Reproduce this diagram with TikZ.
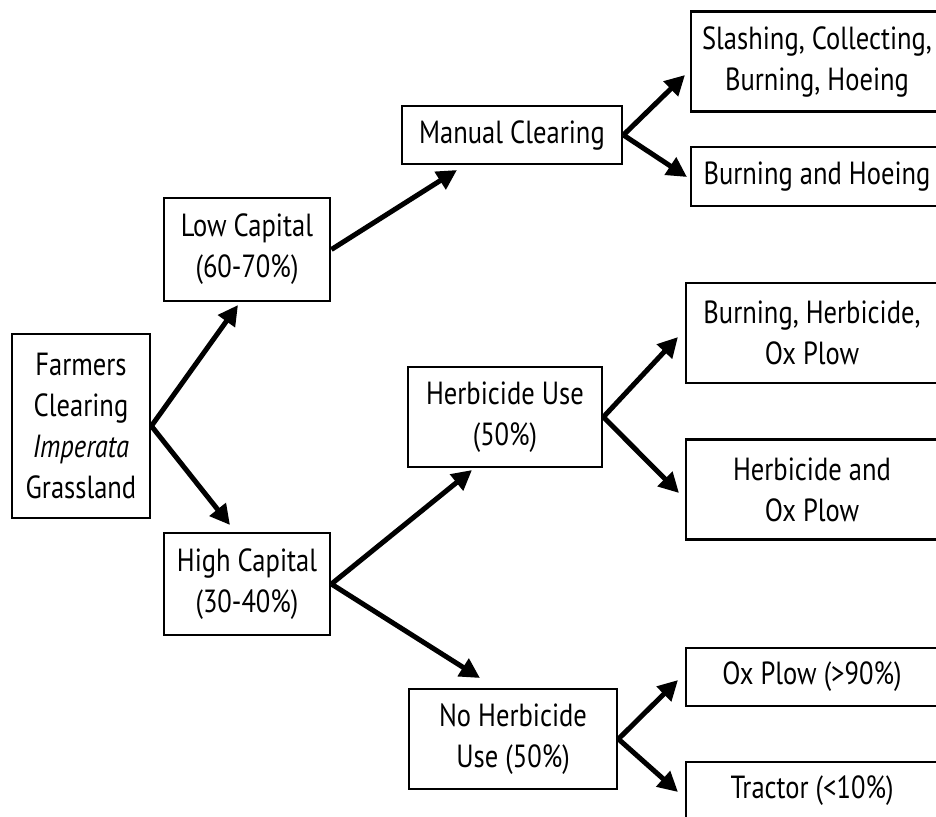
\documentclass[tikz,border=0pt]{standalone}
\usepackage{fontspec}
\setmainfont{PT Sans}[FakeStretch=0.83]
\usetikzlibrary{arrows.meta}
\tikzset{>={Triangle[length=10pt,width=10pt]}}
\tikzset{box/.style={draw, line width=1.4pt, align=center, inner sep=0pt,
    font=\fontsize{16}{20.5}\selectfont},
  link/.style={->, line width=2.5pt},
  leaf/.style={box, minimum width=126pt, minimum height=50pt}}

\begin{document}
\begin{tikzpicture}[x=0.5pt,y=-0.5pt]
\useasboundingbox (0,0) rectangle (936,816);
% first and second column
\node[box, minimum width=69pt, minimum height=92pt] (farm) at (81,426)
  {Farmers\\Clearing\\\textit{Imperata}\\Grassland};
\node[box, minimum width=83pt, minimum height=51.5pt] (lowcap) at (247,249.5)
  {Low Capital\\(60-70\%)};
\node[box, minimum width=83pt, minimum height=51pt] (highcap) at (247,584)
  {High Capital\\(30-40\%)};
% third column
\node[box, minimum width=110pt, minimum height=29pt] (manual) at (512,135)
  {Manual Clearing};
\node[box, minimum width=97pt, minimum height=50pt] (herbuse) at (505,417)
  {Herbicide Use\\(50\%)};
\node[box, minimum width=104pt, minimum height=50pt] (noherb) at (513,739)
  {No Herbicide\\Use (50\%)};
% last column
\node[leaf] (slash) at (817,61.5) {Slashing, Collecting,\\Burning, Hoeing};
\node[leaf, minimum height=29.5pt] (burnhoe) at (817,176.5) {Burning and Hoeing};
\node[leaf] (burnherb) at (812,333) {Burning, Herbicide,\\Ox Plow};
\node[leaf] (herbox) at (812,489.5) {Herbicide and\\Ox Plow};
\node[leaf, minimum height=29pt] (oxplow) at (812,677) {Ox Plow (>90\%)};
\node[leaf, minimum height=29pt] (tractor) at (812,791) {Tractor (<10\%)};

% arrow tips
\coordinate (tlow) at (238,305);
\coordinate (thigh) at (230,525);
\coordinate (tman) at (457,170);
\coordinate (therb) at (472,470);
\coordinate (tnoherb) at (480,678);
\coordinate (tslash) at (685,75);
\coordinate (tburn) at (687,177);
\coordinate (tburnherb) at (678,337);
\coordinate (therbox) at (679,493);
\coordinate (tox) at (678,680);
\coordinate (ttrac) at (678,792);

\draw[link] (farm.east) -- (tlow);
\draw[link] (farm.east) -- (thigh);
\draw[link] (lowcap.east) -- (tman);
\draw[link] (highcap.east) -- (therb);
\draw[link] (highcap.east) -- (tnoherb);
\draw[link] (manual.east) -- (tslash);
\draw[link] (manual.east) -- (tburn);
\draw[link] (herbuse.east) -- (tburnherb);
\draw[link] (herbuse.east) -- (therbox);
\draw[link] (noherb.east) -- (tox);
\draw[link] (noherb.east) -- (ttrac);
\end{tikzpicture}
\end{document}
